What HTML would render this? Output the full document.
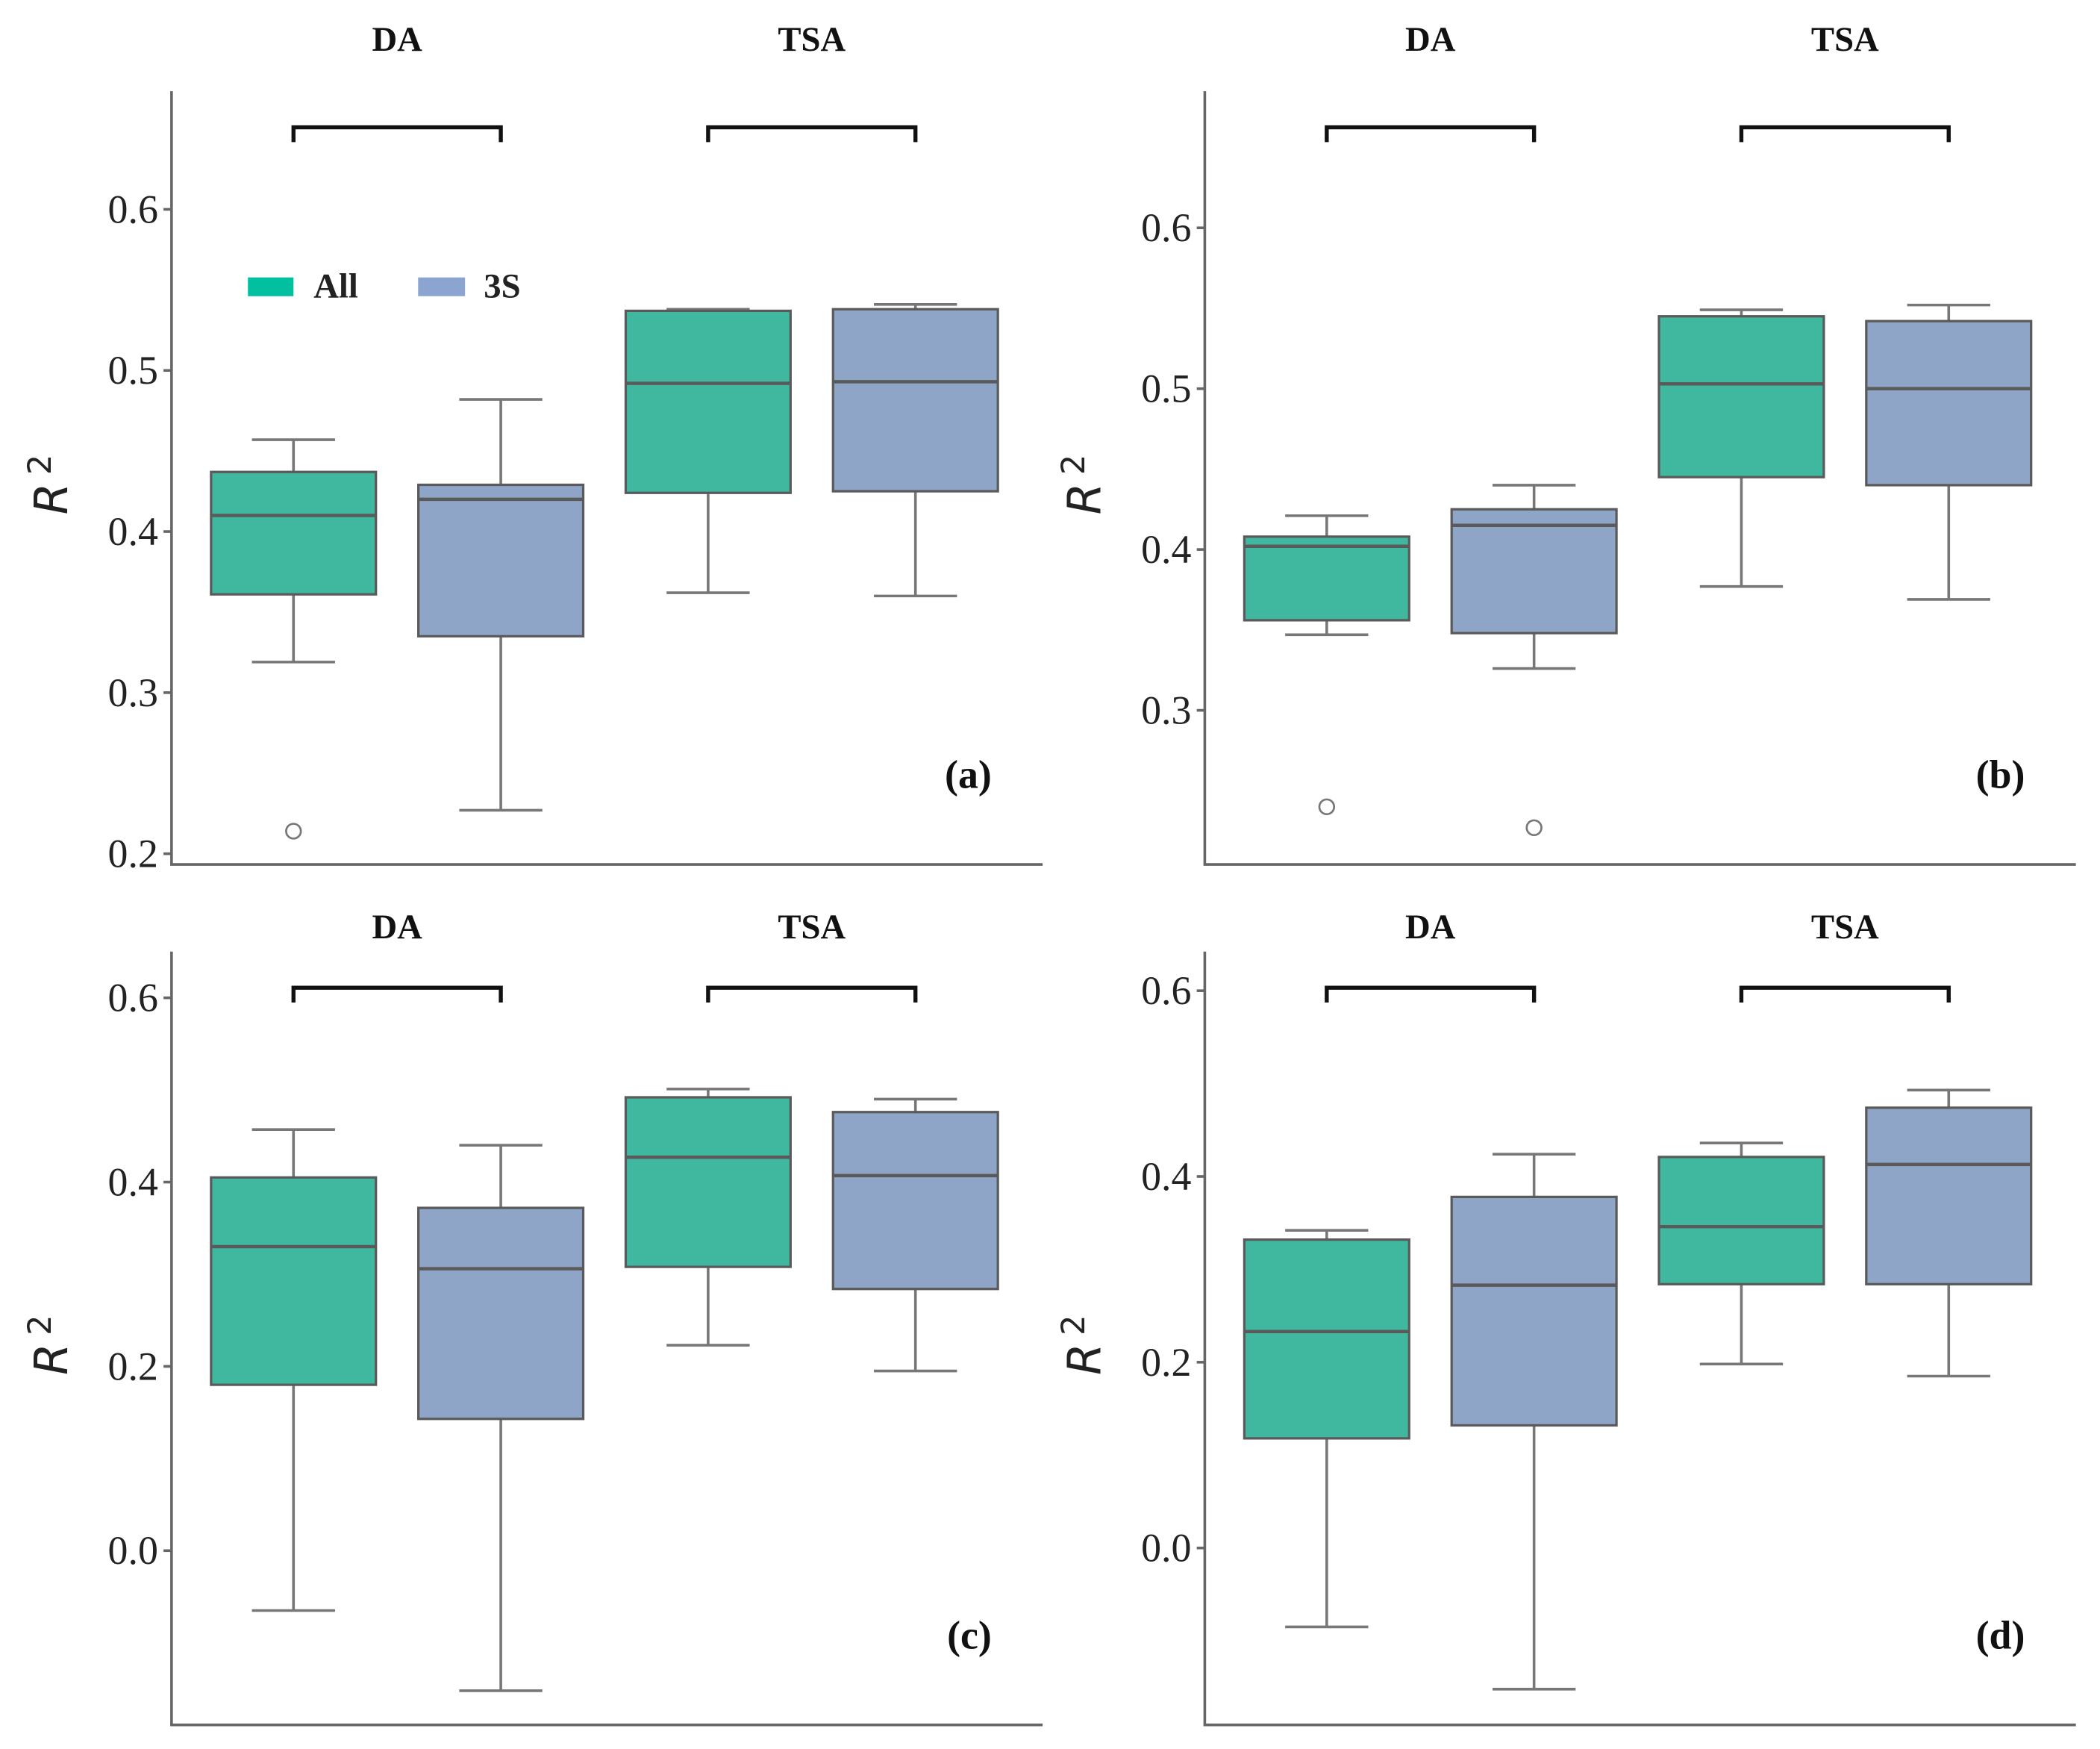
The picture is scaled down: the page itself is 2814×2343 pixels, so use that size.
<!DOCTYPE html>
<html><head><meta charset="utf-8"><style>
html,body{margin:0;padding:0;background:#fff;}
svg{display:block;}
</style></head><body>
<svg id="chart" width="2814" height="2343" viewBox="0 0 1567 1305" preserveAspectRatio="none" xmlns="http://www.w3.org/2000/svg"></svg>
<script>
// ---- data ----
const groups = ["DA-All","DA-3S","TSA-All","TSA-3S"];
// each: [whiskerLo, Q1, median, Q3, whiskerHi]
const panelA = [[0.319,0.361,0.410,0.437,0.457],[0.227,0.335,0.420,0.429,0.482],[0.362,0.424,0.492,0.537,0.538],[0.360,0.425,0.493,0.538,0.541]];
const outliersA = [[0,0.214]];
const panelB = [[0.347,0.356,0.402,0.408,0.421],[0.326,0.348,0.415,0.425,0.440],[0.377,0.445,0.503,0.545,0.549],[0.369,0.440,0.500,0.542,0.552]];
const outliersB = [[0,0.240],[1,0.227]];
const panelC = [[-0.065,0.180,0.330,0.405,0.457],[-0.152,0.143,0.306,0.372,0.440],[0.223,0.308,0.427,0.492,0.501],[0.195,0.284,0.407,0.476,0.490]];
const outliersC = [];
const panelD = [[-0.085,0.118,0.233,0.332,0.342],[-0.152,0.132,0.283,0.378,0.424],[0.198,0.284,0.346,0.421,0.436],[0.185,0.284,0.413,0.474,0.493]];
const outliersD = [];
const ticksAB = [0.2,0.3,0.4,0.5,0.6];
const ticksB = [0.3,0.4,0.5,0.6];
const ticksCD = [0.0,0.2,0.4,0.6];
const tickLabelsAB = ["0.2","0.3","0.4","0.5","0.6"];
const tickLabelsB = ["0.3","0.4","0.5","0.6"];
const tickLabelsCD = ["0.0","0.2","0.4","0.6"];
const panelLabels = ["(a)","(b)","(c)","(d)"];

const svg = document.getElementById('chart');
const NS = "http://www.w3.org/2000/svg";
function mk(tag, attrs, parent){
  const e = document.createElementNS(NS, tag);
  for (const k in attrs) e.setAttribute(k, attrs[k]);
  (parent||svg).appendChild(e);
  return e;
}
const fills = ["#40b8a0","#8fa5c7","#40b8a0","#8fa5c7"];

function panel(cfg){
  const g = mk('g', {});
  
  
  const y = v => cfg.y0 - (v - cfg.v0) * cfg.ppu;
  const x0 = cfg.ax;
  const xc = i => x0 + 91 + i * 154.7;
  const ya = mk('line', {x1:x0, y1:cfg.top, x2:x0, y2:cfg.bottom, stroke:'#666', 'stroke-width':2}, g);
  
  
  const xa = mk('line', {x1:x0-1, y1:cfg.bottom, x2:x0+650, y2:cfg.bottom, stroke:'#666', 'stroke-width':2}, g);
  
  
  cfg.ticks.forEach((t, i) => {
    const ty = y(t);
    const tl = mk('line', {x1:x0-6, y1:ty, x2:x0, y2:ty, stroke:'#666', 'stroke-width':2}, g);
    
    
    const tx = mk('text', {x:x0-10, y:ty+10, 'text-anchor':'end', 'font-family':'Liberation Serif, serif', 'font-size':30, fill:'#222'}, g);
    tx.textContent = cfg.tickLabels[i];
    
    
  });
  const tt = mk('text', {x:0, y:0, transform:`translate(${x0-78},${(cfg.top+cfg.bottom)/2+5}) rotate(-90)`, 'text-anchor':'middle', 'font-family':'DejaVu Sans, sans-serif', 'font-size':34, fill:'#222'}, g);
  
  
  const ti = mk('tspan', {'font-style':'italic'}, tt); ti.textContent = 'R';
  const ts = mk('tspan', {dy:-12, 'font-size':24, dx:6}, tt); ts.textContent = '2';
  [["DA",0],["TSA",2]].forEach(([lab,i]) => {
    const t = mk('text', {x:(xc(i)+xc(i+1))/2, y:cfg.labelY, 'text-anchor':'middle', 'font-family':'Liberation Serif, serif', 'font-weight':'bold', 'font-size':26, fill:'#111'}, g);
    t.textContent = lab;
    
    
    const b = mk('path', {d:`M${xc(i)},${cfg.brY+11} V${cfg.brY} H${xc(i+1)} V${cfg.brY+11}`, fill:'none', stroke:'#111', 'stroke-width':3}, g);
    
    
  });
  cfg.data.forEach((d, i) => {
    const cx = xc(i);
    const bg = mk('g', {}, g);
    
    
    mk('line', {x1:cx, y1:y(d[0]), x2:cx, y2:y(d[1]), stroke:'#777', 'stroke-width':2}, bg);
    mk('line', {x1:cx, y1:y(d[3]), x2:cx, y2:y(d[4]), stroke:'#777', 'stroke-width':2}, bg);
    mk('line', {x1:cx-31, y1:y(d[0]), x2:cx+31, y2:y(d[0]), stroke:'#777', 'stroke-width':2}, bg);
    mk('line', {x1:cx-31, y1:y(d[4]), x2:cx+31, y2:y(d[4]), stroke:'#777', 'stroke-width':2}, bg);
    mk('rect', {x:cx-61.5, y:y(d[3]), width:123, height:y(d[1])-y(d[3]), fill:fills[i], stroke:'#5a5a5a', 'stroke-width':1.8}, bg);
    mk('line', {x1:cx-61.5, y1:y(d[2]), x2:cx+61.5, y2:y(d[2]), stroke:'#5a5a5a', 'stroke-width':2.5}, bg);
  });
  cfg.outliers.forEach(o => {
    const c = mk('circle', {cx:xc(o[0]), cy:y(o[1]), r:5.5, fill:'#fff', stroke:'#777', 'stroke-width':1.5}, g);
    
    
  });
  const pl = mk('text', {x:x0+612, y:cfg.plY, 'text-anchor':'end', 'font-family':'Liberation Serif, serif', 'font-weight':'bold', 'font-size':30, fill:'#111'}, g);
  pl.textContent = cfg.label;
  
  
}

panel({id:'a', ax:128, top:68, bottom:645, v0:0.2, y0:637, ppu:1202, ticks:ticksAB, tickLabels:tickLabelsAB, data:panelA, outliers:outliersA, labelY:38, brY:95, label:panelLabels[0], plY:588});
panel({id:'b', ax:899, top:68, bottom:645, v0:0.3, y0:530, ppu:1200, ticks:ticksB, tickLabels:tickLabelsB, data:panelB, outliers:outliersB, labelY:38, brY:95, label:panelLabels[1], plY:588});
panel({id:'c', ax:128, top:710, bottom:1287, v0:0.0, y0:1157, ppu:687.5, ticks:ticksCD, tickLabels:tickLabelsCD, data:panelC, outliers:outliersC, labelY:700, brY:737, label:panelLabels[2], plY:1230});
panel({id:'d', ax:899, top:710, bottom:1287, v0:0.0, y0:1155, ppu:693, ticks:ticksCD, tickLabels:tickLabelsCD, data:panelD, outliers:outliersD, labelY:700, brY:737, label:panelLabels[3], plY:1230});

const lg = mk('g', {});


const l1 = mk('rect', {x:185, y:207, width:34, height:14, fill:'#00c0a0'}, lg);


const t1 = mk('text', {x:234, y:222, 'font-family':'Liberation Serif, serif', 'font-weight':'bold', 'font-size':26, fill:'#222'}, lg);
t1.textContent = 'All';


const l2 = mk('rect', {x:312, y:207, width:35, height:14, fill:'#8ca4d0'}, lg);


const t2 = mk('text', {x:361, y:222, 'font-family':'Liberation Serif, serif', 'font-weight':'bold', 'font-size':26, fill:'#222'}, lg);
t2.textContent = '3S';


</script>
</body></html>
